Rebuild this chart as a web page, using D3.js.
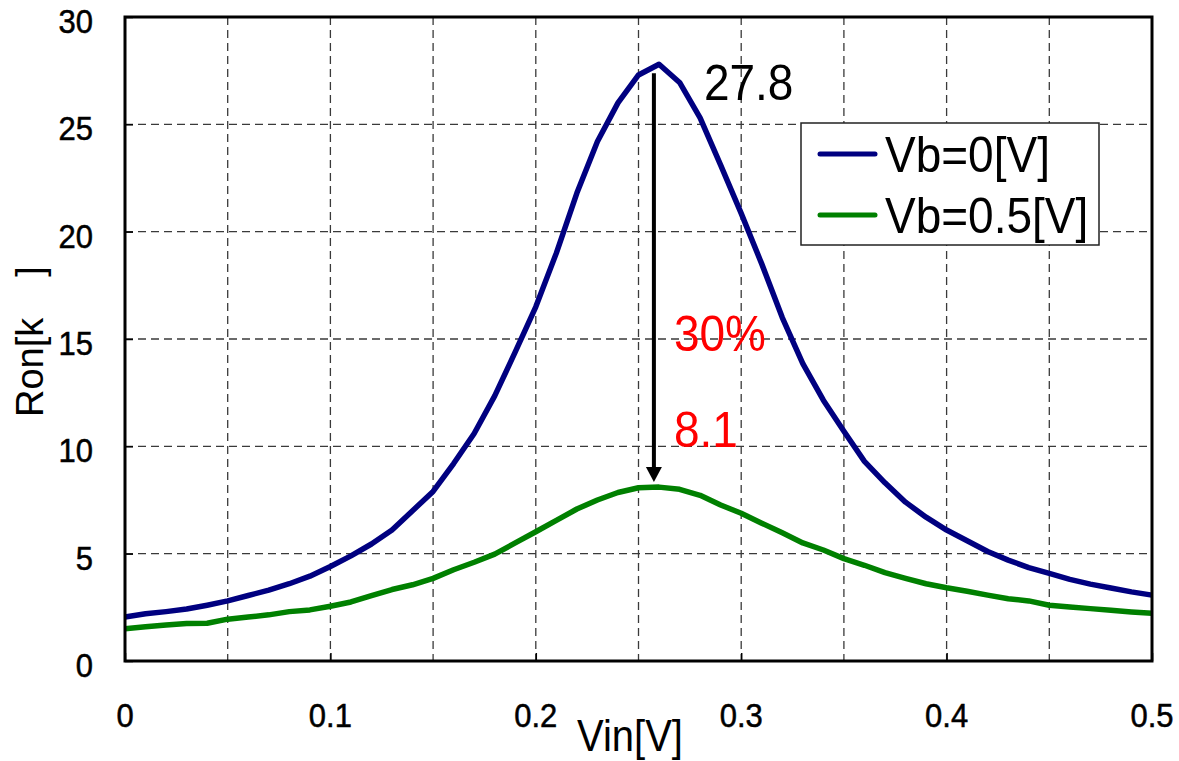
<!DOCTYPE html>
<html>
<head>
	<title>Ron vs Vin</title>
	<meta charset="utf-8">
	<style type="text/css">
		body { margin: 0; background: #fff; }
		text { font-family: "Liberation Sans", Arial, sans-serif; }
	</style>
	<script src="https://d3js.org/d3.v7.min.js"></script>
</head>
<body>
<div class="div1"></div>
<script type="text/javascript">

	// Vin [V] sampled every 0.01
	var vin = [0, 0.01, 0.02, 0.03, 0.04, 0.05, 0.06, 0.07, 0.08, 0.09,
	           0.10, 0.11, 0.12, 0.13, 0.14, 0.15, 0.16, 0.17, 0.18, 0.19,
	           0.20, 0.21, 0.22, 0.23, 0.24, 0.25, 0.26, 0.27, 0.28, 0.29,
	           0.30, 0.31, 0.32, 0.33, 0.34, 0.35, 0.36, 0.37, 0.38, 0.39,
	           0.40, 0.41, 0.42, 0.43, 0.44, 0.45, 0.46, 0.47, 0.48, 0.49, 0.50];

	// Ron [kOhm], Vb = 0 V
	var ron_vb0 = [2.05, 2.2, 2.3, 2.42, 2.6, 2.8, 3.05, 3.3, 3.6, 3.95,
	               4.4, 4.9, 5.45, 6.1, 7.0, 7.9, 9.2, 10.6, 12.35, 14.4,
	               16.5, 19.0, 21.8, 24.2, 26.0, 27.3, 27.8, 26.95, 25.3, 23.1,
	               20.85, 18.5, 16.0, 13.85, 12.15, 10.7, 9.3, 8.3, 7.4, 6.7,
	               6.1, 5.6, 5.1, 4.7, 4.35, 4.08, 3.8, 3.58, 3.4, 3.22, 3.07];

	// Ron [kOhm], Vb = 0.5 V
	var ron_vb05 = [1.5, 1.6, 1.68, 1.75, 1.76, 1.95, 2.05, 2.15, 2.3, 2.38,
	                2.55, 2.75, 3.05, 3.33, 3.55, 3.85, 4.25, 4.6, 4.98, 5.5,
	                6.02, 6.55, 7.08, 7.5, 7.85, 8.07, 8.1, 8.0, 7.72, 7.27,
	                6.88, 6.42, 5.97, 5.5, 5.17, 4.77, 4.46, 4.12, 3.85, 3.6,
	                3.41, 3.25, 3.07, 2.9, 2.8, 2.6, 2.52, 2.44, 2.36, 2.28, 2.22];

	var series_names = ["Vb=0[V]", "Vb=0.5[V]"];
	var series_colors = ["#000080", "#008000"];

	var x_ticks = [0, 0.1, 0.2, 0.3, 0.4, 0.5];
	var x_tick_labels = ["0", "0.1", "0.2", "0.3", "0.4", "0.5"];
	var x_grid = [0.05, 0.1, 0.15, 0.2, 0.25, 0.3, 0.35, 0.4, 0.45];
	var y_ticks = [0, 5, 10, 15, 20, 25, 30];

	// annotation values
	var peak_vin = 0.2575;
	var peak_high = 27.8;
	var peak_low = 8.1;
	var reduction_label = "30%";

	var svgDims = {width: 1179, height: 761};
	var margin = {top: 17, right: 27, bottom: 100, left: 125};
	var width = 1152 - margin.left;
	var height = 661 - margin.top;
	var stretch = "scale(1,1.1)";   // the original lettering is a little tall

	var svg = d3.select(".div1")
				.append("svg")
				.attr("width", svgDims.width)
				.attr("height", svgDims.height)
				.style("display", "block");

	var g = svg.append("g")
				.attr("transform", "translate(" + margin.left + "," + margin.top + ")");

	var x_scale = d3.scaleLinear().domain([0, 0.5]).range([0, width]);
	var y_scale = d3.scaleLinear().domain([0, 30]).range([height, 0]);

	function tr(x, y){ return "translate(" + x + "," + y + ") " + stretch; }

	// dashed grid
	g.selectAll(".vgrid")
		.data(x_grid)
		.enter().append("line")
		.attr("x1", function(d){ return x_scale(d); })
		.attr("x2", function(d){ return x_scale(d); })
		.attr("y1", 0)
		.attr("y2", height)
		.attr("stroke", "#3a3a3a")
		.attr("stroke-width", 1.3)
		.attr("stroke-dasharray", "8,5");

	g.selectAll(".hgrid")
		.data(y_ticks.slice(1, -1))
		.enter().append("line")
		.attr("x1", 0)
		.attr("x2", width)
		.attr("y1", function(d){ return y_scale(d); })
		.attr("y2", function(d){ return y_scale(d); })
		.attr("stroke", "#3a3a3a")
		.attr("stroke-width", 1.3)
		.attr("stroke-dasharray", "8,5");

	// axes (ticks inward, labels drawn separately)
	var x_axis = d3.axisBottom(x_scale).tickValues(x_ticks).tickSize(-8).tickFormat("");
	var y_axis = d3.axisLeft(y_scale).tickValues(y_ticks).tickSize(-8).tickFormat("");

	var gx = g.append("g").attr("transform", "translate(0," + height + ")").call(x_axis);
	var gy = g.append("g").call(y_axis);
	gx.select(".domain").remove();
	gy.select(".domain").remove();
	g.selectAll(".tick line").attr("stroke", "#000").attr("stroke-width", 1.5);

	// tick labels
	g.selectAll(".xlabel")
		.data(x_ticks)
		.enter().append("text")
		.attr("transform", function(d){ return tr(x_scale(d), height + 66); })
		.attr("text-anchor", "middle")
		.attr("font-size", 31)
		.attr("stroke", "#000")
		.attr("stroke-width", 0.5)
		.text(function(d, i){ return x_tick_labels[i]; });

	g.selectAll(".ylabel")
		.data(y_ticks)
		.enter().append("text")
		.attr("transform", function(d){ return tr(-32, y_scale(d) + 16); })
		.attr("text-anchor", "end")
		.attr("font-size", 31)
		.attr("stroke", "#000")
		.attr("stroke-width", 0.5)
		.text(function(d){ return d; });

	// lines
	var line = d3.line()
				.x(function(d){ return x_scale(d.x); })
				.y(function(d){ return y_scale(d.y); });

	function join(xs, ys){
		var out = [];
		for (var i = 0; i < xs.length; i++){
			out.push({x: xs[i], y: ys[i]});
		}
		return out;
	}

	[ron_vb0, ron_vb05].forEach(function(ys, i){
		g.append("path")
			.datum(join(vin, ys))
			.attr("fill", "none")
			.attr("stroke", series_colors[i])
			.attr("stroke-width", 5.5)
			.attr("stroke-linejoin", "round")
			.attr("stroke-linecap", "butt")
			.attr("d", line);
	});

	// plot frame
	g.append("rect")
		.attr("x", 0).attr("y", 0)
		.attr("width", width).attr("height", height)
		.attr("fill", "none")
		.attr("stroke", "#000")
		.attr("stroke-width", 3);

	// arrow from peak to lower peak
	var ax = x_scale(peak_vin);
	var ay1 = y_scale(peak_high) + 9;
	var ay2 = y_scale(peak_low) - 5;
	g.append("line")
		.attr("x1", ax).attr("x2", ax)
		.attr("y1", ay1).attr("y2", ay2 - 12)
		.attr("stroke", "#000")
		.attr("stroke-width", 4);
	g.append("path")
		.attr("d", "M" + (ax - 8) + "," + (ay2 - 15) + "L" + (ax + 8) + "," + (ay2 - 15) + "L" + ax + "," + ay2 + "Z")
		.attr("fill", "#000");

	// annotation texts
	g.append("text")
		.attr("transform", tr(ax + 50, y_scale(peak_high) + 36))
		.attr("font-size", 46)
		.attr("fill", "#000")
		.text(peak_high.toFixed(1));

	g.append("text")
		.attr("transform", tr(ax + 20, y_scale(15) + 12))
		.attr("font-size", 46)
		.attr("fill", "#ff0000")
		.text(reduction_label);

	g.append("text")
		.attr("transform", tr(ax + 20, y_scale(peak_low) - 40))
		.attr("font-size", 46)
		.attr("fill", "#ff0000")
		.text(peak_low.toFixed(1));

	// legend
	var lg = g.append("g").attr("transform", "translate(" + (801 - margin.left) + "," + (123 - margin.top) + ")");
	lg.append("rect")
		.attr("width", 298).attr("height", 122)
		.attr("fill", "#fff")
		.attr("stroke", "#222")
		.attr("stroke-width", 1.5);
	series_names.forEach(function(name, i){
		var ly = 31 + i * 61;
		lg.append("line")
			.attr("x1", 19).attr("x2", 74)
			.attr("y1", ly).attr("y2", ly)
			.attr("stroke", series_colors[i])
			.attr("stroke-width", 5)
			.attr("stroke-linecap", "round");
		lg.append("text")
			.attr("transform", tr(84, ly + 18))
			.attr("font-size", 46)
			.text(name);
	});

	// axis titles
	svg.append("text")
		.attr("transform", tr(630, 751))
		.attr("text-anchor", "middle")
		.attr("font-size", 40)
		.text("Vin[V]");

	var yt = svg.append("text")
		.attr("transform", "translate(43,417) rotate(-90)")
		.attr("font-size", 38);
	yt.append("tspan").text("Ron[k");
	yt.append("tspan").attr("dx", 41).text("]");

</script>
</body>
</html>
